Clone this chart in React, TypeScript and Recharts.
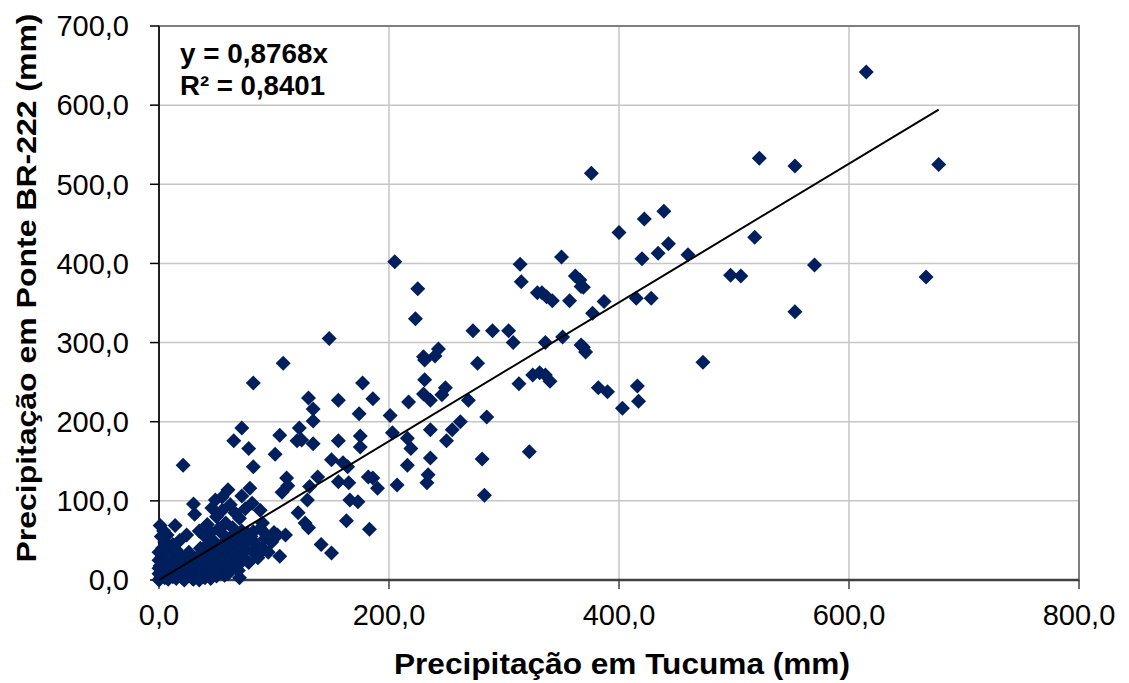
import React from 'react';
import {
  ScatterChart,
  Scatter,
  XAxis,
  YAxis,
  CartesianGrid,
  ReferenceArea,
} from 'recharts';

// Tucuma (x) vs Ponte BR-222 (y), monthly precipitation in mm
const highPoints: [number, number][] = [
  [615, 642], [678, 525], [522, 533], [553, 523], [376, 514], [439, 466], [422, 456],
  [400, 439], [518, 433], [443, 425], [434, 413], [460, 411], [420, 406], [350, 408],
  [570, 398], [497, 385], [506, 384], [667, 383], [362, 384], [366, 379], [367, 371],
  [369, 370], [357, 353], [387, 352], [415, 356], [428, 356], [377, 337], [553, 339],
  [351, 307], [369, 294], [371, 288], [367, 297], [473, 275], [382, 243], [390, 238],
  [416, 245], [417, 226], [403, 217],
];

const midPoints: [number, number][] = [
  [205, 402], [225, 368], [223, 330], [314, 399], [315, 377], [329, 363], [333, 363],
  [337, 358], [342, 353], [230, 282], [231, 278], [240, 283], [243, 292], [277, 274],
  [273, 315], [290, 315], [304, 315], [308, 300], [336, 300], [313, 248], [325, 259],
  [331, 262], [336, 259], [340, 251], [231, 253], [230, 235], [236, 227], [246, 234],
  [249, 243], [269, 227], [217, 225], [201, 208], [285, 206], [262, 200], [255, 190],
  [250, 176], [236, 190], [203, 186], [216, 179], [219, 166], [236, 154], [216, 145],
  [234, 133], [233, 123], [281, 153], [322, 162], [283, 107], [207, 120],
];

const lowMidPoints: [number, number][] = [
  [186, 229], [186, 129], [190, 116], [148, 305], [108, 274], [82, 249], [177, 249],
  [156, 227], [130, 230], [134, 216], [134, 201], [174, 210], [122, 192], [120, 176],
  [124, 177], [134, 172], [105, 183], [101, 159], [156, 176], [175, 182], [175, 168],
  [150, 152], [160, 148], [164, 143], [138, 130], [131, 118], [129, 101], [121, 85],
  [156, 124], [165, 123], [182, 130], [166, 101], [173, 99], [163, 75], [183, 64],
  [141, 45], [150, 34], [130, 66], [127, 72], [105, 30], [111, 129], [112, 119],
  [107, 111], [103, 57], [110, 57],
];

const lowPoints: [number, number][] = [
  [72, 192], [65, 176], [78, 166], [82, 143], [21, 145], [79, 116], [72, 106],
  [60, 114], [55, 105], [49, 101], [46, 91], [30, 96], [31, 83], [81, 97], [88, 88],
  [90, 72], [92, 59], [82, 61], [1, 69], [14, 69], [7, 57], [24, 57], [57, 6],
  [64, 19], [70, 21], [88, 34], [81, 50], [77, 59], [35, 62], [42, 70], [50, 80],
  [55, 88], [62, 95], [45, 60], [58, 72], [66, 85], [40, 55], [52, 65], [70, 78],
  [75, 90],
];

const clusterPoints: [number, number][] = [
  [0, 0], [1, 2], [2, 5], [0, 8], [3, 12], [1, 18], [4, 22], [2, 28], [0, 15], [5, 3],
  [6, 9], [7, 15], [8, 1], [9, 6], [10, 12], [11, 20], [12, 4], [13, 9], [14, 26],
  [15, 2], [16, 14], [17, 7], [18, 31], [19, 11], [20, 3], [21, 18], [22, 8], [23, 24],
  [24, 13], [25, 5], [26, 35], [27, 17], [28, 10], [29, 2], [30, 22], [31, 14], [32, 6],
  [33, 28], [34, 18], [35, 9], [36, 40], [37, 25], [38, 12], [39, 4], [40, 32], [41, 20],
  [42, 45], [43, 15], [44, 8], [45, 38], [46, 26], [47, 50], [48, 18], [49, 11], [50, 30],
  [51, 42], [52, 22], [53, 14], [54, 60], [55, 35], [56, 25], [57, 48], [58, 8], [59, 30],
  [60, 18], [61, 52], [62, 40], [63, 28], [64, 66], [65, 45], [66, 20], [67, 35], [68, 55],
  [69, 12], [70, 42], [71, 30], [72, 62], [73, 25], [74, 48], [76, 38], [78, 22], [80, 55],
  [82, 35], [84, 45], [86, 28], [88, 65], [90, 40], [92, 52], [95, 35], [98, 48], [100, 60],
  [0, 25], [0, 35], [3, 40], [5, 48], [2, 55], [8, 42], [10, 35], [6, 30], [12, 45],
  [15, 38], [18, 50], [20, 28], [4, 62], [22, 0], [30, 1], [40, 3], [50, 5], [35, 0],
  [45, 2], [60, 8], [70, 3],
];

const xTicks = [0, 200, 400, 600, 800];
const yTicks = [0, 100, 200, 300, 400, 500, 600, 700];

const slope = 0.8768;
const rSquared = 0.8401;
const trendEndX = 678;

const allPoints = [...highPoints, ...midPoints, ...lowMidPoints, ...lowPoints, ...clusterPoints].map(
  ([x, y]) => ({ x, y })
);
const trendData = [
  { x: 0, y: 0 },
  { x: trendEndX, y: slope * trendEndX },
];

const fmt = (v: number) => v.toFixed(1).replace('.', ',');
const fmt4 = (v: number) => v.toFixed(4).replace('.', ',');

const FONT = '"Liberation Sans", Arial, sans-serif';
const POINT_COLOR = '#001f5c';

const Diamond = (props: any) => {
  const { cx, cy } = props;
  const r = 7.5;
  return (
    <polygon
      points={`${cx},${cy - r} ${cx + r},${cy} ${cx},${cy + r} ${cx - r},${cy}`}
      fill={POINT_COLOR}
    />
  );
};

const App: React.FC = () => {
  return (
    <div style={{ position: 'absolute', left: 0, top: 0, background: '#fff' }}>
      <ScatterChart
        width={1129}
        height={683}
        margin={{ top: 26, right: 50, bottom: 0, left: 0 }}
        style={{ fontFamily: FONT }}
      >
        <CartesianGrid stroke="#c6c6c6" strokeWidth={1.5} />
        <ReferenceArea x1={0} x2={800} y1={0} y2={700} fill="none" stroke="#7f7f7f" strokeWidth={2} />
        <XAxis
          type="number"
          dataKey="x"
          domain={[0, 800]}
          ticks={xTicks}
          tickFormatter={fmt}
          height={103}
          tickSize={9}
          tickMargin={15}
          axisLine={{ stroke: '#404040', strokeWidth: 2.5 }}
          tickLine={{ stroke: '#404040', strokeWidth: 1.5 }}
          tick={{ fill: '#000', fontSize: 29, fontFamily: FONT }}
          label={{
            content: () => (
              <text
                x={622}
                y={674}
                textAnchor="middle"
                fontFamily={FONT}
                fontWeight="bold"
                fontSize={29}
                textLength={456}
                lengthAdjust="spacingAndGlyphs"
                fill="#000"
              >
                Precipitação em Tucuma (mm)
              </text>
            ),
          }}
        />
        <YAxis
          type="number"
          dataKey="y"
          domain={[0, 700]}
          ticks={yTicks}
          tickFormatter={fmt}
          width={159}
          tickSize={9}
          tickMargin={21}
          axisLine={{ stroke: '#000', strokeWidth: 1.5 }}
          tickLine={{ stroke: '#000', strokeWidth: 1.5 }}
          tick={{ fill: '#000', fontSize: 29, fontFamily: FONT }}
          label={{
            content: () => (
              <text
                x={36}
                y={288}
                transform="rotate(-90 36 288)"
                textAnchor="middle"
                fontFamily={FONT}
                fontWeight="bold"
                fontSize={28}
                textLength={549}
                lengthAdjust="spacingAndGlyphs"
                fill="#000"
              >
                Precipitação em Ponte BR-222 (mm)
              </text>
            ),
          }}
        />
        <Scatter data={allPoints} shape={Diamond} isAnimationActive={false} />
        <Scatter
          data={trendData}
          line={{ stroke: '#000', strokeWidth: 2 }}
          shape={() => <g />}
          isAnimationActive={false}
        />
        <text
          x={180}
          y={63}
          fontFamily={FONT}
          fontWeight="bold"
          fontSize={27}
          textLength={148}
          lengthAdjust="spacingAndGlyphs"
          fill="#000"
        >
          {`y = ${fmt4(slope)}x`}
        </text>
        <text
          x={180}
          y={95}
          fontFamily={FONT}
          fontWeight="bold"
          fontSize={27}
          textLength={145}
          lengthAdjust="spacingAndGlyphs"
          fill="#000"
        >
          {`R² = ${fmt4(rSquared)}`}
        </text>
      </ScatterChart>
    </div>
  );
};

export default App;
